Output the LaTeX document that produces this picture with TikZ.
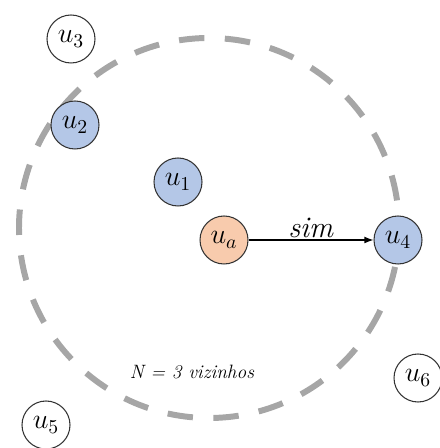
\RequirePackage{fix-cm}
\documentclass[tikz,border=0pt]{standalone}
\usetikzlibrary{arrows.meta}
\definecolor{vizinho}{HTML}{B4C7E7}
\definecolor{alvo}{HTML}{F8CBAD}
\definecolor{raio}{HTML}{A6A6A6}
\tikzset{
  usuario/.style={circle, draw=black!80, fill=white, line width=0.6pt, minimum size=0.96cm, inner sep=0pt, font=\fontsize{16}{19}\selectfont},
}
\begin{document}
\begin{tikzpicture}[scale=1]
            \useasboundingbox (0,0) rectangle (8.78,8.96);
            \coordinate (C) at (4.18,4.40);

            \draw[raio, line width=3.4pt, dash pattern=on 0.51cm off 0.408cm, dash phase=0.365cm] (C) circle (3.8);

            \node[usuario] (u3) at (1.42,8.18) {$u_3$};
            \node[usuario, fill=vizinho] (u2) at (1.50,6.46) {$u_2$};
            \node[usuario, fill=vizinho] (u1) at (3.56,5.32) {$u_1$};
            \node[usuario, fill=alvo] (ua) at (4.48,4.16) {$u_a$};
            \node[usuario, fill=vizinho] (u4) at (7.96,4.16) {$u_4$};
            \node[usuario] (u5) at (0.92,0.46) {$u_5$};
            \node[usuario] (u6) at (8.36,1.40) {$u_6$};

            \draw[-{Latex[length=1.8mm]}, line width=0.6pt] (ua) -- node[above, inner sep=1pt, font=\fontsize{17}{20}\selectfont] {\textit{sim}} (u4);

            \node[font=\fontsize{11}{13}\selectfont] (N) at (3.84,1.52) {\textit{N = 3 vizinhos}};
        \end{tikzpicture}
\end{document}
